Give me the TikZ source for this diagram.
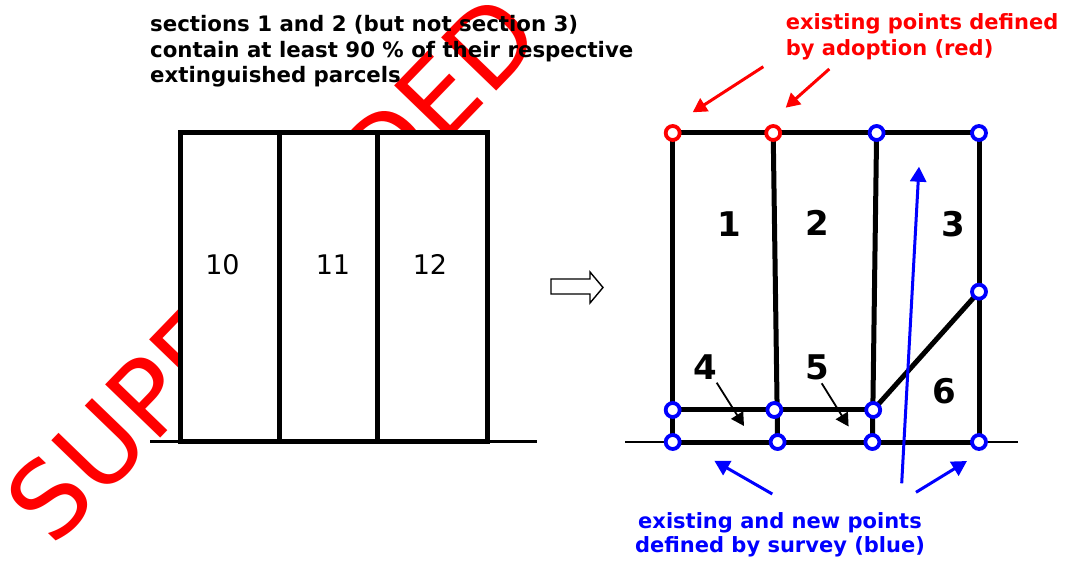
\documentclass[tikz,border=0pt]{standalone}
\usepackage{fontspec}
\setmainfont{DejaVu Sans}
\usetikzlibrary{arrows.meta}
\definecolor{wred}{RGB}{255,0,0}
\definecolor{pblue}{RGB}{0,0,255}
\begin{document}
\begin{tikzpicture}[x=1pt,y=-1pt,
  heavy/.style={line width=5pt},
  groundline/.style={line width=2.2pt},
  txt/.style={inner sep=0pt,font=\fontsize{21}{25}\selectfont\bfseries},
  blacktxt/.style={inner sep=0pt,font=\fontsize{21.3}{25}\selectfont\bfseries},
  bignum/.style={inner sep=0pt,font=\fontsize{34}{34}\selectfont\bfseries},
  smallnum/.style={inner sep=0pt,font=\fontsize{27}{27}\selectfont},
  redpt/.style={circle,draw=wred,fill=white,line width=3.8pt,minimum size=14pt,inner sep=0pt},
  bluept/.style={circle,draw=pblue,fill=white,line width=3.8pt,minimum size=14pt,inner sep=0pt},
  redarrow/.style={draw=wred,line width=3pt,-{Triangle[length=14pt,width=15pt]}},
  bluearrow/.style={draw=pblue,line width=3pt,-{Triangle[length=15pt,width=16pt]}},
  thinarrow/.style={draw=black,line width=1.8pt,-{Triangle[length=13pt,width=14pt]}},
]
\useasboundingbox (0,0) rectangle (1069,561);
% watermark
\node[inner sep=0pt,rotate=46,text=wred,font=\fontsize{105}{105}\selectfont] (wm) at (272,268) {SUPERSEDED};
% left diagram
\coordinate (gl1) at (150,441.5);
\coordinate (gl2) at (537,441.5);
\draw[groundline] (gl1) -- (gl2);
\draw[heavy,fill=white] (180.5,133) rectangle (487,441.5);
\coordinate (d1t) at (279,133); \coordinate (d1b) at (279,441.5);
\coordinate (d2t) at (377,133); \coordinate (d2b) at (377,441.5);
\draw[heavy] (d1t) -- (d1b);
\draw[heavy] (d2t) -- (d2b);
\node[smallnum] (n10) at (222.5,264.5) {10};
\node[smallnum] (n11) at (333,264.5) {11};
\node[smallnum] (n12) at (430,264.5) {12};
% top text
\node[blacktxt,anchor=base west] (t1) at (150,31.7) {sections 1 and 2 (but not section 3)};
\node[blacktxt,anchor=base west] (t2) at (150,57.5) {contain at least 90 \% of their respective};
\node[blacktxt,anchor=base west] (t3) at (150,83) {extinguished parcels};
% hollow arrow
\draw[line width=1.4pt,fill=white] (551,279) -- (590,279) -- (590,272) -- (603,287.5) -- (590,303) -- (590,294) -- (551,294) -- cycle;
% right diagram
\coordinate (A1) at (672.7,133);
\coordinate (A2) at (773.2,133);
\coordinate (A3) at (876.6,133);
\coordinate (A4) at (979,133);
\coordinate (R) at (979,291.7);
\coordinate (B1) at (672.7,410);
\coordinate (B2) at (774.4,410);
\coordinate (B3) at (873.2,410);
\coordinate (C1) at (672.7,442);
\coordinate (C2) at (777.6,442);
\coordinate (C3) at (872.4,442);
\coordinate (C4) at (979,442);
\coordinate (g1) at (625,442);
\coordinate (g2) at (1018,442);
\draw[groundline] (g1) -- (g2);
\draw[heavy] (A1) -- (A4);
\draw[heavy] (A1) -- (C1);
\draw[heavy] (A2) -- (C2);
\draw[heavy] (A3) -- (C3);
\draw[heavy] (A4) -- (C4);
\draw[heavy] (C1) -- (C4);
\draw[heavy] (B1) -- (B3);
\draw[heavy] (B3) -- (R);
\node[bignum] (s1) at (729.5,224) {1};
\node[bignum] (s2) at (817,223) {2};
\node[bignum] (s3) at (953.3,224.5) {3};
\node[bignum] (s4) at (705,367.5) {4};
\node[bignum] (s5) at (817,367.5) {5};
\node[bignum] (s6) at (944.7,391) {6};
% small arrows
\coordinate (a4s) at (716.7,382.7); \coordinate (a4e) at (744,426);
\coordinate (a5s) at (821.7,383.3); \coordinate (a5e) at (848.6,426.5);
\draw[thinarrow] (a4s) -- (a4e);
\draw[thinarrow] (a5s) -- (a5e);
% points
\node[redpt] (pA1) at (A1) {};
\node[redpt] (pA2) at (A2) {};
\node[bluept] (pA3) at (A3) {};
\node[bluept] (pA4) at (A4) {};
\node[bluept] (pR) at (R) {};
\node[bluept] (pB1) at (B1) {};
\node[bluept] (pB2) at (B2) {};
\node[bluept] (pB3) at (B3) {};
\node[bluept] (pC1) at (C1) {};
\node[bluept] (pC2) at (C2) {};
\node[bluept] (pC3) at (C3) {};
\node[bluept] (pC4) at (C4) {};
% blue arrows
\coordinate (bb1) at (901.7,483.3); \coordinate (bb2) at (919,166.7);
\coordinate (bl1) at (772.3,494); \coordinate (bl2) at (714.3,460.7);
\coordinate (br1) at (916,492.3); \coordinate (br2) at (967,461);
\draw[bluearrow] (bb1) -- (bb2);
\draw[bluearrow] (bl1) -- (bl2);
\draw[bluearrow] (br1) -- (br2);
% red arrows
\coordinate (ra1) at (763.3,66.7); \coordinate (ra2) at (692.7,112.3);
\coordinate (rb1) at (829.3,69); \coordinate (rb2) at (785.7,107.7);
\draw[redarrow] (ra1) -- (ra2);
\draw[redarrow] (rb1) -- (rb2);
% labels
\node[txt,text=wred,anchor=base west] (r1) at (785.7,30) {existing points defined};
\node[txt,text=wred,anchor=base west] (r2) at (785.7,55.5) {by adoption (red)};
\node[txt,text=pblue,anchor=base] (b1) at (780,528.3) {existing and new points};
\node[txt,text=pblue,anchor=base] (b2) at (780,552.7) {defined by survey (blue)};
\end{tikzpicture}
\end{document}
